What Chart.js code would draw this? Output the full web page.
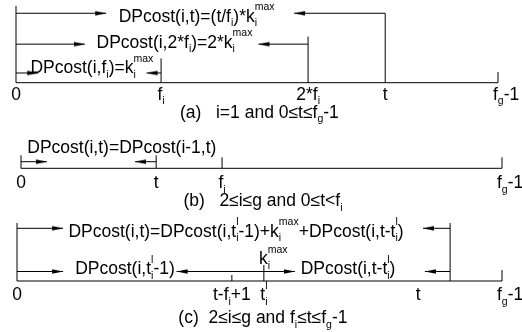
<!DOCTYPE html>
<html lang="en">
<head>
<meta charset="utf-8">
<title>DPcost cases</title>
<script src="https://cdn.jsdelivr.net/npm/chart.js@4.4.1/dist/chart.umd.min.js"></script>
<style>
  html, body { margin: 0; padding: 0; background: #fff; }
  #wrap { position: relative; width: 522px; height: 332px; overflow: hidden; background: #fff; }
  #wrap canvas { position: absolute; left: 0; top: 0; }
</style>
</head>
<body>
<div id="wrap">
  <canvas id="panelA" width="522" height="332"></canvas>
  <canvas id="panelB" width="522" height="332"></canvas>
  <canvas id="panelC" width="522" height="332"></canvas>
</div>
<script>
// Positions along each time line run from 0 (left end) to 100 (f_g-1).
// Heights are "levels" above the time line.

// ---- panel (a) ----
const aTickPos = [0, 30.1, 60.6, 76.6, 100];
const aTickTop = [7.9, 2.5, 4.75, 7.15, 1.1];
const aLabelPos = [0, 30.1, 60.6, 76.6, 100];
const aLabels = ['0', 'f_i', '2*f_i', 't', 'f_g-1'];
const aArrowFrom = [0, 76.6, 0, 60.6, 0, 30.1];
const aArrowTip = [18.7, 57.7, 14.3, 50.3, 4.6, 27.1];
const aArrowLevel = [7.15, 7.15, 3.97, 3.97, 1.0, 1.0];
const aFormulas = ['DPcost(i,t)=(t/f_i)*k_i^{max}', 'DPcost(i,2*f_i)=2*k_i^{max}', 'DPcost(i,f_i)=k_i^{max}'];
const aFormulaX = [21.3, 16.7, 3.0];
const aFormulaY = [6.27, 3.62, 0.97];
const aCaption = '(a)   i=1 and 0≤t≤f_g-1';

// ---- panel (b) ----
const bTickPos = [0, 28.1, 41.8, 100];
const bTickTop = [1.3, 1.3, 1.1, 1.1];
const bLabelPos = [0, 28.1, 41.8, 100];
const bLabels = ['0', 't', 'f_i', 'f_g-1'];
const bArrowFrom = [0, 28.1];
const bArrowTip = [5.4, 23.7];
const bArrowLevel = [0.66, 0.66];
const bFormulas = ['DPcost(i,t)=DPcost(i-1,t)'];
const bFormulaX = [1.3];
const bFormulaY = [1.53];
const bCaption = '(b)   2≤i≤g and 0≤t<f_i';

// ---- panel (c) ----
const cTickPos = [0, 44.3, 50.9, 89.3, 100];
const cTickTop = [5.8, 0.6, 1.6, 5.8, 1.1];
const cLabelPos = [0, 44.3, 50.9, 82.7, 100];
const cLabels = ['0', 't-f_i+1', 't_i^{l}', 't', 'f_g-1'];
const cArrowFrom = [0, 89.3, 0, 50.9, 50.9, 89.3];
const cArrowTip = [9.5, 83.7, 9.5, 32.9, 57.3, 84.1];
const cArrowLevel = [5.27, 5.27, 0.95, 0.95, 0.95, 0.95];
const cFormulas = ['DPcost(i,t)=DPcost(i,t_i^{l}-1)+k_i^{max}+DPcost(i,t-t_i^{l})', 'DPcost(i,t_i^{l}-1)', 'DPcost(i,t-t_i^{l})', 'k_i^{max}'];
const cFormulaX = [10.6, 12.0, 58.5, 49.9];
const cFormulaY = [4.43, 0.7, 0.7, 1.7];
const cCaption = '(c)  2≤i≤g and f_i≤t≤f_g-1';

// ---- layout ----
const W = 522, H = 332, LEVEL_PX = 10;
const INK = '#000';
const FONT = '"Liberation Sans", Arial, Helvetica, sans-serif';
const TEXT_SIZE = 17.5;
const SCRIPT_SIZE = TEXT_SIZE * 0.6;
const SUB_DROP = 4.5, SUP_RISE = 11.5, EDGE_SHIFT = 5;

const frames = [
  { id: 'panelA', left: 16, right: 24, base: 82.7, yMax: 8, labelY: -1.73, captionX: 50.5, captionY: -3.63 },
  { id: 'panelB', left: 21, right: 20, base: 168.3, yMax: 2, labelY: -1.97, captionX: 50.3, captionY: -3.77 },
  { id: 'panelC', left: 17, right: 20, base: 281, yMax: 6, labelY: -1.9, captionX: 50.7, captionY: -4.2 }
];

function fontOf(size) { return size + 'px ' + FONT; }

// arrow head image, tip at the image centre
function headImage(dir) {
  const c = document.createElement('canvas');
  c.width = 24; c.height = 7;
  const g = c.getContext('2d');
  g.fillStyle = INK;
  g.beginPath();
  g.moveTo(12, 3.5);
  g.lineTo(12 - 11 * dir, 1.2);
  g.lineTo(12 - 11 * dir, 5.8);
  g.closePath();
  g.fill();
  return c;
}
const HEAD_RIGHT = headImage(1);
const HEAD_LEFT = headImage(-1);

// "f_i", "k_i^{max}" -> runs of normal / sub / sup text
function parseRich(str) {
  const parts = [];
  let buf = '', i = 0;
  while (i < str.length) {
    const c = str[i];
    if (c === '_' || c === '^') {
      if (buf) { parts.push({ t: buf, k: 'n' }); buf = ''; }
      let s;
      if (str[i + 1] === '{') { const j = str.indexOf('}', i); s = str.slice(i + 2, j); i = j + 1; }
      else { s = str[i + 1]; i += 2; }
      parts.push({ t: s, k: c === '_' ? 'sub' : 'sup' });
    } else { buf += c; i++; }
  }
  if (buf) parts.push({ t: buf, k: 'n' });
  return parts;
}

function drawRich(ctx, str, px, py, align) {
  const parts = parseRich(str);
  const runs = [];
  let w = 0, k = 0;
  while (k < parts.length) {
    if (parts[k].k === 'n') {
      ctx.font = fontOf(TEXT_SIZE);
      runs.push({ t: parts[k].t, x: w, dy: 0, size: TEXT_SIZE });
      w += ctx.measureText(parts[k].t).width;
      k++;
    } else {
      let gw = 0;
      while (k < parts.length && parts[k].k !== 'n') {
        ctx.font = fontOf(SCRIPT_SIZE);
        runs.push({ t: parts[k].t, x: w, dy: parts[k].k === 'sub' ? SUB_DROP : -SUP_RISE, size: SCRIPT_SIZE });
        gw = Math.max(gw, ctx.measureText(parts[k].t).width);
        k++;
      }
      w += gw;
    }
  }
  let x0 = px;
  if (align === 'center') x0 = px - w / 2;
  else if (align === 'edge') x0 = px - EDGE_SHIFT;
  for (const r of runs) {
    ctx.font = fontOf(r.size);
    ctx.fillText(r.t, x0 + r.x, py + r.dy);
  }
}

function textPlugin(items) {
  return {
    id: 'richText',
    afterDatasetsDraw(chart) {
      const { ctx, scales: { x, y } } = chart;
      ctx.save();
      ctx.fillStyle = INK;
      ctx.textBaseline = 'alphabetic';
      items.forEach(it => drawRich(ctx, it.text, x.getPixelForValue(it.x), y.getPixelForValue(it.y), it.align));
      ctx.restore();
    }
  };
}

function buildPanel(frame, d) {
  const datasets = [];
  const line = (pts, extra) => datasets.push(Object.assign({
    data: pts, borderColor: INK, borderWidth: 1, pointRadius: 0,
    tension: 0, fill: false, clip: false
  }, extra || {}));

  line([{ x: 0, y: 0 }, { x: 100, y: 0 }]);
  d.tickPos.forEach((p, i) => line([{ x: p, y: 0 }, { x: p, y: d.tickTop[i] }]));
  d.arrowFrom.forEach((f, i) => {
    const tip = d.arrowTip[i], lvl = d.arrowLevel[i];
    line([{ x: f, y: lvl }, { x: tip, y: lvl }], {
      pointRadius: [0, 4],
      pointStyle: tip > f ? HEAD_RIGHT : HEAD_LEFT
    });
  });

  const items = [];
  d.formulas.forEach((t, i) => items.push({ text: t, x: d.formulaX[i], y: d.formulaY[i], align: 'left' }));
  d.labels.forEach((t, i) => items.push({
    text: t, x: d.labelPos[i], y: frame.labelY,
    align: i === d.labels.length - 1 ? 'edge' : 'center'
  }));
  items.push({ text: d.caption, x: frame.captionX, y: frame.captionY, align: 'center' });

  new Chart(document.getElementById(frame.id), {
    type: 'line',
    data: { datasets },
    options: {
      responsive: false,
      animation: false,
      events: [],
      layout: {
        padding: {
          left: frame.left, right: frame.right,
          top: frame.base - frame.yMax * LEVEL_PX, bottom: H - frame.base
        }
      },
      scales: {
        x: { type: 'linear', min: 0, max: 100, display: false },
        y: { type: 'linear', min: 0, max: frame.yMax, display: false }
      },
      plugins: { legend: { display: false }, tooltip: { enabled: false } }
    },
    plugins: [textPlugin(items)]
  });
}

buildPanel(frames[0], {
  tickPos: aTickPos, tickTop: aTickTop, labelPos: aLabelPos, labels: aLabels,
  arrowFrom: aArrowFrom, arrowTip: aArrowTip, arrowLevel: aArrowLevel,
  formulas: aFormulas, formulaX: aFormulaX, formulaY: aFormulaY, caption: aCaption
});
buildPanel(frames[1], {
  tickPos: bTickPos, tickTop: bTickTop, labelPos: bLabelPos, labels: bLabels,
  arrowFrom: bArrowFrom, arrowTip: bArrowTip, arrowLevel: bArrowLevel,
  formulas: bFormulas, formulaX: bFormulaX, formulaY: bFormulaY, caption: bCaption
});
buildPanel(frames[2], {
  tickPos: cTickPos, tickTop: cTickTop, labelPos: cLabelPos, labels: cLabels,
  arrowFrom: cArrowFrom, arrowTip: cArrowTip, arrowLevel: cArrowLevel,
  formulas: cFormulas, formulaX: cFormulaX, formulaY: cFormulaY, caption: cCaption
});
</script>
</body>
</html>
